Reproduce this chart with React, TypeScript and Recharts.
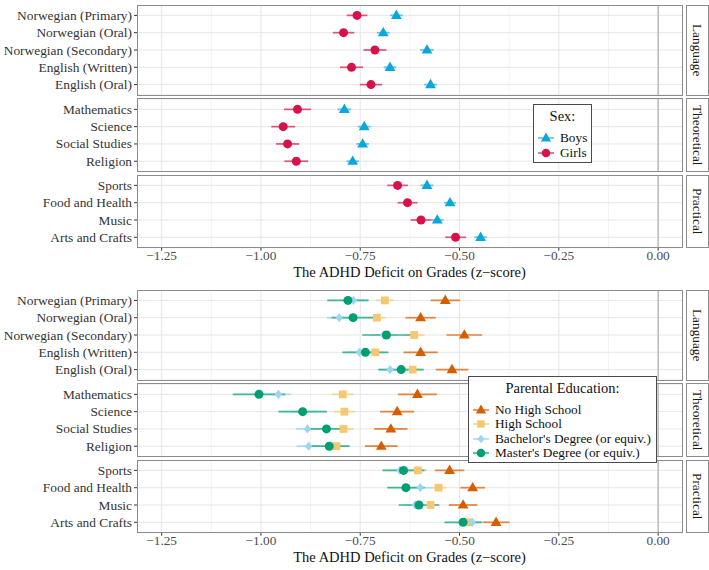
import React from "react";
import { ScatterChart, Scatter, XAxis, YAxis, CartesianGrid, ErrorBar, ReferenceLine } from "recharts";

const FONT = '"Liberation Serif", "Times New Roman", serif';

// subjects, grouped by facet
const LANGUAGE = ["Norwegian (Primary)", "Norwegian (Oral)", "Norwegian (Secondary)", "English (Written)", "English (Oral)"];
const THEORETICAL = ["Mathematics", "Science", "Social Studies", "Religion"];
const PRACTICAL = ["Sports", "Food and Health", "Music", "Arts and Crafts"];

// values in subject order: language (5), theoretical (4), practical (4)
const boys = [-0.659, -0.692, -0.582, -0.675, -0.573, -0.790, -0.740, -0.744, -0.769, -0.582, -0.524, -0.556, -0.447];
const boysErr = [0.016, 0.016, 0.017, 0.016, 0.016, 0.017, 0.016, 0.016, 0.016, 0.016, 0.015, 0.016, 0.016];
const girls = [-0.758, -0.792, -0.713, -0.772, -0.723, -0.908, -0.944, -0.933, -0.911, -0.656, -0.631, -0.597, -0.510];
const girlsErr = [0.026, 0.027, 0.029, 0.029, 0.028, 0.034, 0.030, 0.029, 0.030, 0.026, 0.025, 0.026, 0.026];

const noHighSchool = [-0.536, -0.598, -0.488, -0.598, -0.519, -0.606, -0.657, -0.673, -0.697, -0.525, -0.467, -0.491, -0.408];
const noHighSchoolErr = [0.037, 0.038, 0.045, 0.043, 0.041, 0.049, 0.043, 0.042, 0.041, 0.037, 0.031, 0.036, 0.034];
const highSchool = [-0.688, -0.708, -0.614, -0.712, -0.618, -0.794, -0.790, -0.792, -0.810, -0.605, -0.553, -0.573, -0.476];
const highSchoolErr = [0.022, 0.022, 0.026, 0.023, 0.021, 0.027, 0.026, 0.025, 0.026, 0.023, 0.020, 0.020, 0.020];
const bachelor = [-0.767, -0.803, -0.691, -0.752, -0.675, -0.956, -0.893, -0.883, -0.880, -0.650, -0.599, -0.612, -0.468];
const bachelorErr = [0.030, 0.031, 0.034, 0.032, 0.030, 0.031, 0.032, 0.029, 0.030, 0.030, 0.028, 0.028, 0.028];
const master = [-0.781, -0.768, -0.684, -0.737, -0.647, -1.005, -0.895, -0.835, -0.828, -0.641, -0.635, -0.602, -0.491];
const masterErr = [0.052, 0.054, 0.061, 0.058, 0.057, 0.066, 0.061, 0.050, 0.051, 0.053, 0.047, 0.051, 0.047];

const X_TICKS = [-1.25, -1, -0.75, -0.5, -0.25, 0];
const X_MINOR = [-1.125, -0.875, -0.625, -0.375, -0.125];
const D0 = -1.312;
const D1 = 0.06;

const CHART_W = 682;
const PLOT_L = 137;
const PLOT_W = CHART_W - PLOT_L;
const toPx = (v: number) => PLOT_L + ((v - D0) / (D1 - D0)) * PLOT_W;

const FACETS = [
    { label: "Language", subjects: LANGUAGE, start: 0, top: 5, height: 90 },
    { label: "Theoretical", subjects: THEORETICAL, start: 5, top: 98.7, height: 72.6 },
    { label: "Practical", subjects: PRACTICAL, start: 9, top: 175, height: 72.7 },
];

type Shape = "triangle" | "circle" | "square" | "diamond";

function marker(shape: Shape, color: string, cx: number, cy: number, k = 1) {
    if (shape === "triangle")
        return <polygon points={`${cx},${cy - 5.8 * k} ${cx - 5.4 * k},${cy + 3.6 * k} ${cx + 5.4 * k},${cy + 3.6 * k}`} fill={color} />;
    if (shape === "square")
        return <rect x={cx - 3.9 * k} y={cy - 3.9 * k} width={7.8 * k} height={7.8 * k} fill={color} />;
    if (shape === "diamond")
        return <polygon points={`${cx},${cy - 4.6 * k} ${cx + 3.6 * k},${cy} ${cx},${cy + 4.6 * k} ${cx - 3.6 * k},${cy}`} fill={color} />;
    return <circle cx={cx} cy={cy} r={4.5 * k} fill={color} />;
}

interface Series {
    name: string;
    values: number[];
    errs: number[];
    color: string;
    errColor: string;
    shape: Shape;
}

const SEX_SERIES: Series[] = [
    { name: "Girls", values: girls, errs: girlsErr, color: "#D5124A", errColor: "#E2537A", shape: "circle" },
    { name: "Boys", values: boys, errs: boysErr, color: "#0BA7DA", errColor: "#5EC4E6", shape: "triangle" },
];

const EDU_SERIES: Series[] = [
    { name: "No High School", values: noHighSchool, errs: noHighSchoolErr, color: "#D55E00", errColor: "#E2843E", shape: "triangle" },
    { name: "High School", values: highSchool, errs: highSchoolErr, color: "#F3C870", errColor: "#F5D48E", shape: "square" },
    { name: "Bachelor's Degree (or equiv.)", values: bachelor, errs: bachelorErr, color: "#9DD4F3", errColor: "#A9DAF5", shape: "diamond" },
    { name: "Master's Degree (or equiv.)", values: master, errs: masterErr, color: "#009E73", errColor: "#40B693", shape: "circle" },
];

const fmt = (v: number) => (v < 0 ? "\u2212" : "") + Math.abs(v).toFixed(2);

function XTick({ x, y, payload }: any) {
    return (
        <text x={x} y={y} dy="0.68em" textAnchor="middle" fontFamily={FONT} fontSize={13.3} fill="#4d4d4d">
            {fmt(payload.value)}
        </text>
    );
}

function makeYTick(subjects: string[]) {
    return ({ x, y, payload }: any) => (
        <text x={x} y={y} dy="0.34em" textAnchor="end" fontFamily={FONT} fontSize={13.4} fill="#333">
            {subjects[payload.value - 1] ?? ""}
        </text>
    );
}

function Facet({ facet, series, showAxis }: { facet: typeof FACETS[number]; series: Series[]; showAxis: boolean }) {
    const n = facet.subjects.length;
    const rows = facet.subjects.map((_, i) => i + 1);
    return (
        <ScatterChart width={CHART_W} height={facet.height + (showAxis ? 24 : 0)} margin={{ top: 0, right: 0, bottom: 0, left: 0 }}>
            <CartesianGrid stroke="#f3f3f3" horizontal={false} verticalPoints={X_MINOR.map(toPx)} />
            <CartesianGrid stroke="#e6e6e6" verticalPoints={X_TICKS.map(toPx)} />
            <XAxis type="number" dataKey="x" domain={[D0, D1]} allowDataOverflow ticks={X_TICKS} hide={!showAxis}
                height={24} axisLine={false} tickSize={3} tickMargin={0} tickLine={{ stroke: "#333" }} tick={<XTick />} />
            <YAxis type="number" dataKey="y" domain={[0.4, n + 0.6]} allowDataOverflow reversed ticks={rows} interval={0}
                width={PLOT_L} axisLine={false} tickSize={3} tickMargin={2} tickLine={{ stroke: "#333" }}
                tick={makeYTick(facet.subjects)} />
            <ReferenceLine x={0} stroke="#a9a9a9" strokeWidth={1.1} />
            {series.map((s) => (
                <Scatter key={s.name} name={s.name} isAnimationActive={false}
                    data={facet.subjects.map((_, i) => ({ x: s.values[facet.start + i], y: i + 1, err: s.errs[facet.start + i] }))}
                    fill={s.color}
                    shape={(p: any) => (p.cx == null ? <g /> : marker(s.shape, s.color, p.cx, p.cy))}>
                    <ErrorBar dataKey="err" direction="x" width={0} stroke={s.errColor} strokeWidth={1.7} />
                </Scatter>
            ))}
        </ScatterChart>
    );
}

function Legend({ title, series, left, top, width, height, rowY }: {
    title: string; series: Series[]; left: number; top: number; width: number; height: number; rowY: number[];
}) {
    return (
        <div style={{ position: "absolute", left, top, width, height, boxSizing: "border-box", border: "1.3px solid #4a4a4a", background: "#fff" }}>
            <div style={{ position: "absolute", left: 0, right: 0, top: 3, textAlign: "center", fontSize: 14.5, color: "#111", lineHeight: "17px" }}>{title}</div>
            {series.map((s, i) => (
                <React.Fragment key={s.name}>
                    <svg style={{ position: "absolute", left: 3, top: rowY[i] - 8 }} width={18} height={16}>
                        <line x1={1} x2={17} y1={8} y2={8} stroke={s.errColor} strokeWidth={1.6} />
                        {marker(s.shape, s.color, 9, 8, 0.95)}
                    </svg>
                    <div style={{ position: "absolute", left: 26, top: rowY[i] - 8, fontSize: 13.3, lineHeight: "16px", color: "#111", whiteSpace: "nowrap" }}>{s.name}</div>
                </React.Fragment>
            ))}
        </div>
    );
}

function Half({ top, series, legend }: { top: number; series: Series[]; legend: React.ReactNode }) {
    return (
        <div style={{ position: "absolute", left: 0, top, width: 709, height: 285 }}>
            {FACETS.map((f, i) => (
                <React.Fragment key={f.label}>
                    <div style={{ position: "absolute", left: 0, top: f.top }}>
                        <Facet facet={f} series={series} showAxis={i === FACETS.length - 1} />
                    </div>
                    <div style={{ position: "absolute", left: PLOT_L - 0.5, top: f.top - 0.5, width: PLOT_W + 1, height: f.height + 1, boxSizing: "border-box", border: "1.6px solid #8c8c8c" }} />
                    <div style={{ position: "absolute", left: 686, top: f.top - 0.5, width: 22.5, height: f.height + 1, boxSizing: "border-box", border: "1.3px solid #8c8c8c", background: "#fff", display: "flex", alignItems: "center", justifyContent: "center" }}>
                        <span style={{ writingMode: "vertical-rl", fontSize: 13.3, color: "#1a1a1a" }}>{f.label}</span>
                    </div>
                </React.Fragment>
            ))}
            <div style={{ position: "absolute", left: PLOT_L, width: PLOT_W, top: 264, textAlign: "center", fontSize: 14.5, color: "#111", lineHeight: "16px" }}>
                The ADHD Deficit on Grades (z{"\u2212"}score)
            </div>
            {legend}
        </div>
    );
}

export default function App() {
    return (
        <div style={{ position: "absolute", left: 0, top: 0, width: 709, height: 570, background: "#fff", fontFamily: FONT, overflow: "hidden" }}>
            <Half top={0} series={SEX_SERIES}
                legend={<Legend title="Sex:" series={[SEX_SERIES[1], SEX_SERIES[0]]} left={533} top={104} width={59} height={59} rowY={[32.7, 47.7]} />} />
            <Half top={285} series={EDU_SERIES}
                legend={<Legend title="Parental Education:" series={EDU_SERIES} left={468} top={91} width={189} height={87} rowY={[33, 46.7, 61.7, 75.7]} />} />
        </div>
    );
}
